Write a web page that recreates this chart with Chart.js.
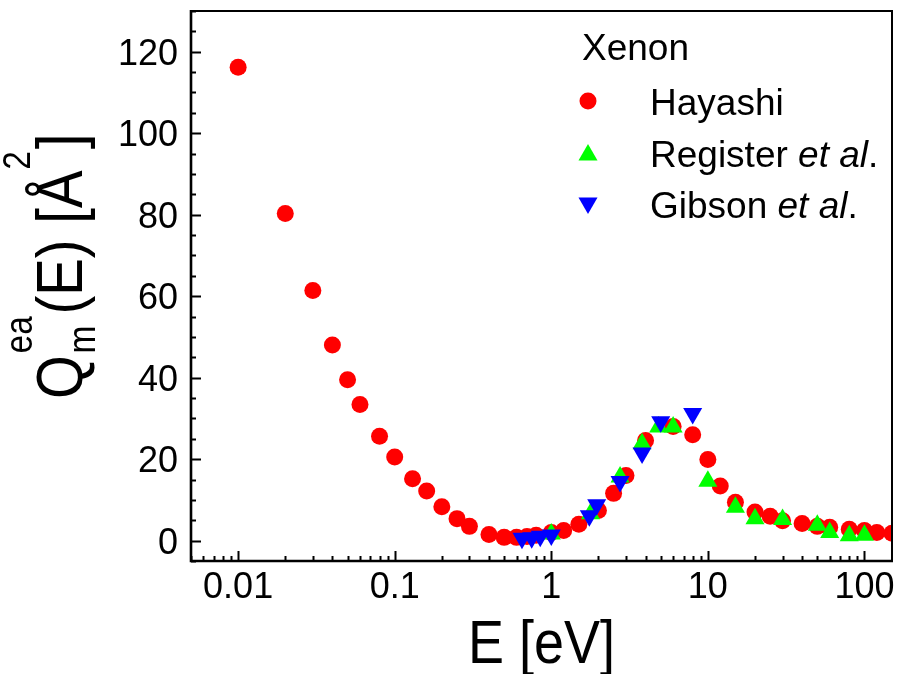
<!DOCTYPE html>
<html>
<head>
<meta charset="utf-8">
<script src="https://cdn.jsdelivr.net/npm/chart.js@4.4.1/dist/chart.umd.min.js"></script>
<style>
  html, body { margin: 0; padding: 0; background: #fff; }
  #wrap { width: 915px; height: 674px; }
</style>
</head>
<body>
<div id="wrap"><canvas id="grafico" width="915" height="674"></canvas></div>
<script>
// Momentum-transfer cross section of xenon, three data sets
const hayashiE = [0.01, 0.02, 0.03, 0.04, 0.05, 0.06, 0.08, 0.1, 0.13, 0.16, 0.2, 0.25, 0.3, 0.4, 0.5, 0.6, 0.7, 0.8, 1.0,
                  1.2, 1.5, 2.0, 2.5, 3.0, 4.0, 6.0, 8.0, 10, 12, 15, 20, 25, 30, 40, 50, 60, 80, 100, 120, 150];
const hayashiQ = [116.2, 80.3, 61.4, 48.0, 39.5, 33.4, 25.6, 20.5, 15.2, 12.2, 8.3, 5.4, 3.5, 1.5, 0.8, 0.8, 1.0, 1.3, 2.0,
                  2.5, 4.0, 7.4, 11.6, 16.0, 24.6, 28.0, 26.0, 19.9, 13.4, 9.4, 7.0, 6.0, 4.9, 4.2, 3.5, 3.3, 2.8, 2.5, 2.0, 1.8];

const registerE = [1.0, 1.78, 2.75, 3.8, 4.85, 6.0, 10, 15, 20, 30, 50, 60, 80, 100];
const registerQ = [1.6, 6.6, 15.6, 23.8, 27.9, 27.9, 14.6, 8.2, 5.4, 5.2, 3.8, 2.0, 1.2, 1.3];

const gibsonE = [0.65, 0.75, 0.85, 1.0, 1.75, 1.95, 2.75, 3.8, 5.0, 8.0];
const gibsonQ = [0.6, 0.7, 1.1, 1.4, 6.1, 8.8, 14.5, 21.5, 29.2, 31.2];

const xTickValues = [0.01, 0.1, 1, 10, 100];
const xTickLabels = ['0.01', '0.1', '1', '10', '100'];
const yTickValues = [0, 20, 40, 60, 80, 100, 120];
const yTickLabels = ['0', '20', '40', '60', '80', '100', '120'];

const FAMILY = '"Liberation Sans", Arial, sans-serif';
const ROJO = '#ff0000', VERDE = '#00ff00', AZUL = '#0000ff';

const puntos = (xs, ys) => xs.map((x, i) => ({ x, y: ys[i] }));

// marcas hacia adentro, etiquetas, títulos y caja
const ejes = {
  id: 'ejes',
  afterDatasetsDraw(chart) {
    const { ctx, chartArea: a, scales: { x, y } } = chart;
    ctx.save();
    ctx.strokeStyle = '#000';

    // ticks eje x: mayores en cada década, menores 2..9
    ctx.lineWidth = 2;
    ctx.beginPath();
    for (let d = -3; d <= 2; d++) {
      for (let k = 1; k <= 9; k++) {
        const v = k * Math.pow(10, d);
        if (v < x.min || v > x.max) continue;
        const px = Math.round(x.getPixelForValue(v)) + 0.5;
        const len = k === 1 ? 10 : 5;
        ctx.moveTo(px, a.bottom);
        ctx.lineTo(px, a.bottom - len);
      }
    }
    // ticks eje y cada 5, mayores cada 20
    for (let v = -5; v <= 130; v += 5) {
      const py = Math.round(y.getPixelForValue(v)) + 0.5;
      const len = v % 20 === 0 ? 10 : 5;
      ctx.moveTo(a.left, py);
      ctx.lineTo(a.left + len, py);
    }
    ctx.stroke();

    // caja
    ctx.lineWidth = 2;
    ctx.beginPath();
    ctx.moveTo(a.left, a.top);
    ctx.lineTo(a.right, a.top);
    ctx.lineTo(a.right, a.bottom);
    ctx.stroke();
    ctx.lineWidth = 2.6;
    ctx.beginPath();
    ctx.moveTo(a.left, a.top - 1);
    ctx.lineTo(a.left, a.bottom);
    ctx.lineTo(a.right + 1, a.bottom);
    ctx.stroke();

    // etiquetas
    ctx.fillStyle = '#000';
    ctx.font = `36px ${FAMILY}`;
    ctx.textBaseline = 'alphabetic';
    ctx.textAlign = 'center';
    xTickValues.forEach((v, i) => ctx.fillText(xTickLabels[i], x.getPixelForValue(v), a.bottom + 37));
    ctx.textAlign = 'right';
    yTickValues.forEach((v, i) => ctx.fillText(yTickLabels[i], a.left - 13, y.getPixelForValue(v) + 13));

    // título eje x
    ctx.save();
    ctx.translate((a.left + a.right) / 2, 663);
    ctx.scale(0.87, 1);
    ctx.textAlign = 'center';
    ctx.font = `62px ${FAMILY}`;
    ctx.fillText('E [eV]', 0, 0);
    ctx.restore();

    // título eje y: Q con sub/superíndice
    ctx.save();
    ctx.translate(82, 399);
    ctx.rotate(-Math.PI / 2);
    ctx.scale(0.88, 1);
    ctx.textAlign = 'left';
    const grande = `64px ${FAMILY}`, chica = `38px ${FAMILY}`;
    let cx = 0;
    ctx.font = grande;
    ctx.fillText('Q', cx, 0);
    cx += ctx.measureText('Q').width;
    ctx.font = chica;
    ctx.fillText('ea', cx + 2, -50);
    ctx.fillText('m', cx + 2, 13);
    cx += Math.max(ctx.measureText('ea').width, ctx.measureText('m').width) + 4;
    ctx.font = grande;
    ctx.fillText('(E) [Å', cx, 0);
    cx += ctx.measureText('(E) [Å').width;
    ctx.font = chica;
    ctx.fillText('2', cx + 1, -52);
    cx += ctx.measureText('2').width + 3;
    ctx.font = grande;
    ctx.fillText(']', cx, 0);
    ctx.restore();

    // leyenda
    ctx.textAlign = 'left';
    ctx.font = `37px ${FAMILY}`;
    ctx.fillText('Xenon', 582, 60);
    const items = [
      { color: ROJO, style: 'circle', rot: 0, r: 8.5, yMarca: 101, base: 115, txt: ['Hayashi'] },
      { color: VERDE, style: 'triangle', rot: 0, r: 11, yMarca: 155, base: 167, txt: ['Register ', 'et al', '.'] },
      { color: AZUL, style: 'triangle', rot: 180, r: 11, yMarca: 203, base: 218, txt: ['Gibson ', 'et al', '.'] },
    ];
    items.forEach(it => {
      ctx.fillStyle = it.color;
      Chart.helpers.drawPoint(ctx, { pointStyle: it.style, radius: it.r, rotation: it.rot, borderWidth: 0 }, 588, it.yMarca);
      ctx.fillStyle = '#000';
      let tx = 650;
      it.txt.forEach((t, i) => {
        ctx.font = i === 1 ? `italic 37px ${FAMILY}` : `37px ${FAMILY}`;
        ctx.fillText(t, tx, it.base);
        tx += ctx.measureText(t).width;
      });
    });
    ctx.restore();
  }
};

new Chart(document.getElementById('grafico'), {
  type: 'scatter',
  data: {
    datasets: [
      // order: el valor menor se dibuja encima
      { label: 'Hayashi', data: puntos(hayashiE, hayashiQ), order: 3, pointStyle: 'circle', pointRadius: 8.5,
        backgroundColor: ROJO, borderWidth: 0, clip: 0 },
      { label: 'Register et al.', data: puntos(registerE, registerQ), order: 2, pointStyle: 'triangle', pointRadius: 11,
        backgroundColor: VERDE, borderWidth: 0, clip: 0 },
      { label: 'Gibson et al.', data: puntos(gibsonE, gibsonQ), order: 1, pointStyle: 'triangle', pointRotation: 180,
        pointRadius: 11, backgroundColor: AZUL, borderWidth: 0, clip: 0 },
    ],
  },
  options: {
    responsive: false,
    animation: false,
    events: [],
    layout: { padding: { top: 8, right: 23, left: 0, bottom: 0 } },
    scales: {
      x: {
        type: 'logarithmic', min: 0.005, max: 150,
        ticks: { display: false }, grid: { display: false }, border: { display: false },
        afterFit: s => { s.height = 113; },
      },
      y: {
        type: 'linear', min: -5, max: 130,
        ticks: { display: false }, grid: { display: false }, border: { display: false },
        afterFit: s => { s.width = 191; },
      },
    },
    plugins: { legend: { display: false }, tooltip: { enabled: false } },
  },
  plugins: [ejes],
});
</script>
</body>
</html>
